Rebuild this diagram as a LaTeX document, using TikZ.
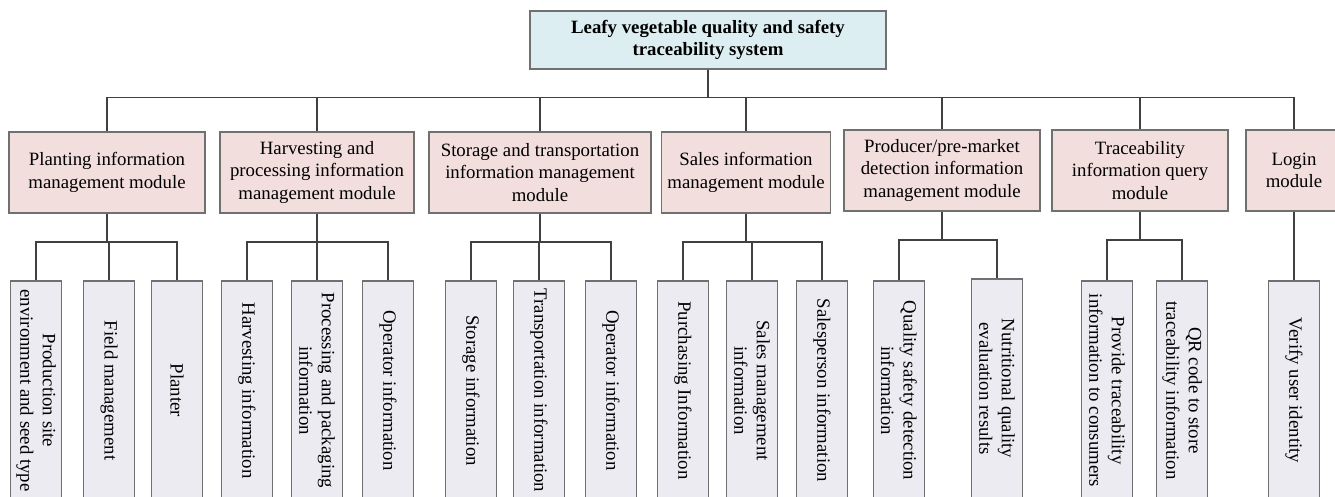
\documentclass[tikz,border=0pt]{standalone}
\usepackage{fontspec}
\setmainfont{Liberation Serif}
\definecolor{topfill}{HTML}{DDEEF3}
\definecolor{modfill}{HTML}{F2DEDD}
\definecolor{leaffill}{HTML}{EDEBF2}
\definecolor{boxborder}{HTML}{707070}
\definecolor{linecol}{HTML}{404040}
\begin{document}
\begin{tikzpicture}[x=1pt,y=-1pt,
  box/.style={draw=boxborder, line width=1.2pt, align=center, inner sep=0pt, font=\fontsize{18.8}{22.5}\selectfont},
  topbox/.style={box, fill=topfill, minimum width=356pt, minimum height=58pt, font=\bfseries\fontsize{18.8}{22.5}\selectfont},
  modbox/.style={box, fill=modfill, minimum height=81pt},
  leafbox/.style={box, fill=leaffill, rotate=-90, minimum width=219pt, minimum height=51pt},
  conn/.style={draw=linecol, line width=1.3pt}]
\useasboundingbox (0,0) rectangle (1335,496);
\clip (0,0) rectangle (1335,496);
\fill[white] (0,0) rectangle (1335,496);
% top
\node[topbox] (top) at (708,40) {Leafy vegetable quality and safety\\traceability system};
% modules
\node[modbox, minimum width=196pt] (m1) at (107,172.5) {Planting information\\management module};
\node[modbox, minimum width=194pt] (m2) at (317,172.5) {Harvesting and\\processing information\\management module};
\node[modbox, minimum width=222pt] (m3) at (540,172.5) {Storage and transportation\\information management\\module};
\node[modbox, minimum width=169pt] (m4) at (746,172.5) {Sales information\\management module};
\node[modbox, minimum width=196pt] (m5) at (942,170.5) {Producer/pre-market\\detection information\\management module};
\node[modbox, minimum width=176pt] (m6) at (1140,170.5) {Traceability\\information query\\module};
\node[modbox, minimum width=96pt] (m7) at (1294,170.5) {Login\\module};
% leaves
\node[leafbox] (l11) at (36,390.5) {Production site\\environment and seed type};
\node[leafbox] (l12) at (109,390.5) {Field management};
\node[leafbox] (l13) at (177,390.5) {Planter};
\node[leafbox] (l21) at (247,390.5) {Harvesting information};
\node[leafbox] (l22) at (317,390.5) {Processing and packaging\\information};
\node[leafbox] (l23) at (388,390.5) {Operator information};
\node[leafbox] (l31) at (471,390.5) {Storage information};
\node[leafbox] (l32) at (539,390.5) {Transportation information};
\node[leafbox] (l33) at (611,390.5) {Operator information};
\node[leafbox] (l41) at (683,390.5) {Purchasing Information};
\node[leafbox] (l42) at (752,390.5) {Sales management\\information};
\node[leafbox] (l43) at (822,390.5) {Salesperson information};
\node[leafbox] (l51) at (899,390.5) {Quality safety detection\\information};
\node[leafbox] (l52) at (997,388.5) {Nutritional quality\\evaluation results};
\node[leafbox] (l61) at (1107,390.5) {Provide traceability\\information to consumers};
\node[leafbox] (l62) at (1182,390.5) {QR code to store\\traceability information};
\node[leafbox] (l71) at (1294,390.5) {Verify user identity};
% connectors top -> modules
\foreach \m in {m1,m2,m3,m4,m5,m6,m7}{
  \draw[conn] (top.south) -- ++(0,28) -| (\m.north);
}
% modules -> leaves
\foreach \m/\l in {m1/l11,m1/l12,m1/l13,m2/l21,m2/l22,m2/l23,m3/l31,m3/l32,m3/l33,m4/l41,m4/l42,m4/l43}{
  \draw[conn] (\m.south) -- ++(0,28.5) -| (\l.west);
}
\foreach \m/\l in {m5/l51,m5/l52,m6/l61,m6/l62,m7/l71}{
  \draw[conn] (\m.south) -- ++(0,28.5) -| (\l.west);
}
\end{tikzpicture}
\end{document}
